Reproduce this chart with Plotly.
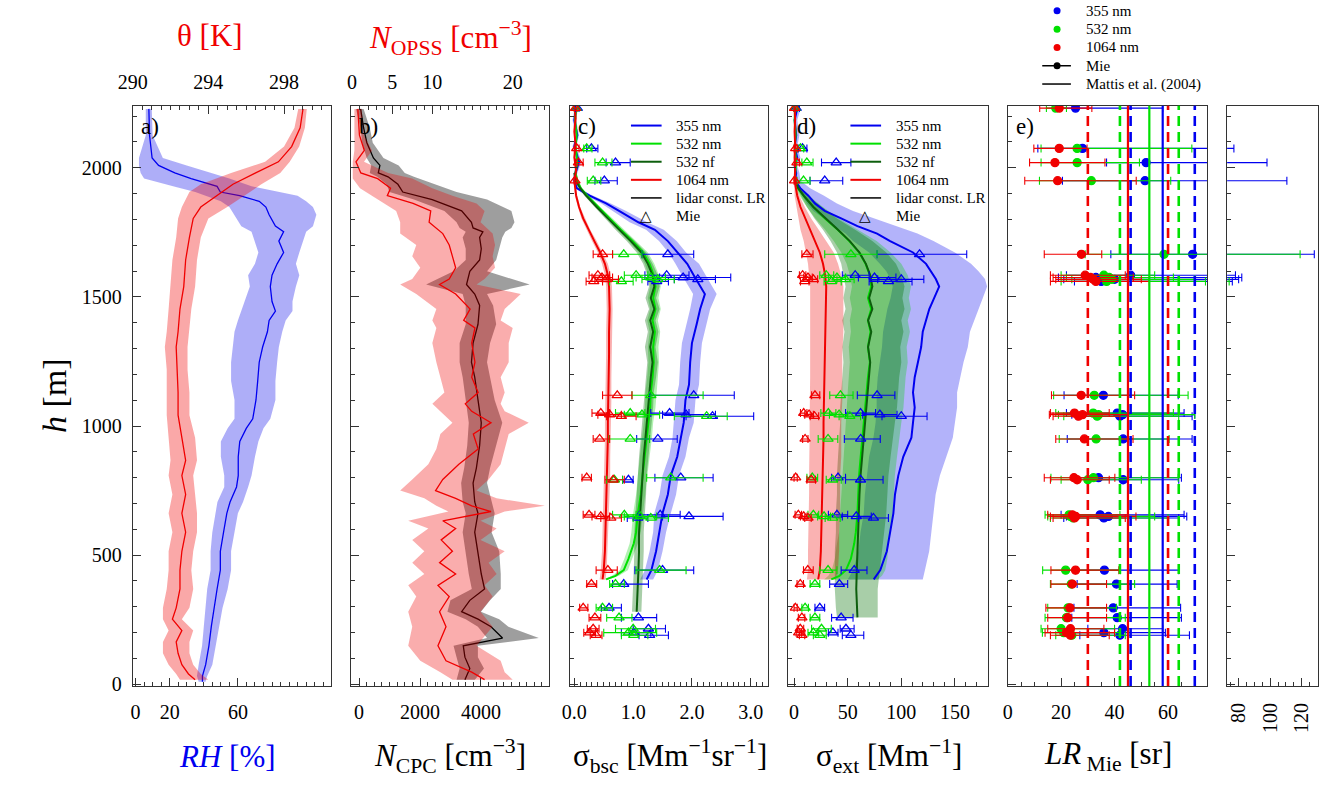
import plotly.graph_objects as go

# ======================= DATA =======================
# ---- panel a: RH (bottom axis) and potential temperature (top axis)
h_rh = [10, 32, 76, 149, 223, 296, 369, 442, 515, 589, 662, 706, 764, 808, 881, 940, 991, 1028, 1101, 1174,
        1247, 1306, 1365, 1409, 1445, 1482, 1540, 1584, 1628, 1672, 1716, 1752, 1774, 1818, 1848, 1870, 1892,
        1906, 1928, 1958, 1980, 2009, 2038, 2126, 2228]
rh = [39.2, 39.2, 41.1, 43.0, 44.4, 45.9, 47.8, 49.7, 49.7, 51.6, 53.5, 55.4, 59.2, 60.2, 60.2, 61.1, 64.9, 68.7,
      70.6, 71.6, 72.5, 74.5, 77.3, 78.3, 82.0, 80.0, 79.0, 80.0, 83.0, 86.8, 84.0, 86.8, 82.0, 78.3, 76.4, 72.5,
      61.0, 49.7, 47.8, 32.6, 23.0, 13.5, 9.7, 8.2, 7.8]
rh_lo = [37, 36, 37, 39, 40, 41, 42, 44, 44, 45, 47, 48, 52, 52, 50, 50, 54, 58, 58, 56, 56, 57, 58, 60, 62, 64,
         67, 66, 70, 72, 70, 68, 62, 58, 55, 50, 40, 35, 22, 5, 3, 2, 2, 6, 6]
rh_hi = [41, 42, 45, 47, 49, 51, 54, 56, 56, 58, 60, 63, 66, 68, 70, 72, 75, 79, 82, 82, 83, 84, 86, 88, 92, 92,
         94, 96, 94, 96, 98, 100, 104, 106, 104, 100, 95, 85, 68, 55, 45, 30, 16, 10, 9.5]

h_theta = [18, 40, 76, 120, 164, 208, 252, 296, 369, 442, 515, 589, 662, 735, 808, 867, 955, 1042, 1130, 1218,
           1306, 1365, 1453, 1540, 1643, 1730, 1804, 1848, 1906, 1936, 1980, 2023, 2082, 2155, 2228]
theta = [293.3, 292.95, 292.6, 292.4, 292.3, 292.6, 292.1, 292.3, 292.5, 292.5, 292.6, 292.8, 292.6, 292.8,
         292.6, 292.8, 292.6, 292.4, 292.4, 292.35, 292.3, 292.4, 292.5, 292.7, 292.8, 293.0, 293.2, 293.6,
         294.7, 295.3, 296.5, 297.7, 298.4, 298.85, 299.0]
theta_lo = [292.5, 292.3, 291.9, 291.6, 291.6, 291.9, 291.6, 291.6, 291.8, 291.9, 291.9, 292.1, 291.9, 292.1,
            291.9, 292.0, 291.9, 291.8, 291.8, 291.8, 291.7, 291.8, 291.9, 292.0, 292.1, 292.3, 292.4, 292.6,
            293.0, 293.6, 295.2, 297.0, 298.0, 298.55, 298.75]
theta_hi = [294.0, 293.6, 293.2, 293.0, 293.0, 293.2, 292.6, 293.0, 293.2, 293.1, 293.2, 293.4, 293.4, 293.3,
            293.2, 293.4, 293.3, 293.0, 293.0, 292.9, 292.9, 293.0, 293.1, 293.3, 293.4, 293.6, 294.0, 295.0,
            296.2, 296.8, 297.8, 298.3, 298.8, 299.1, 299.2]

# ---- panel b: N_CPC (bottom axis) and N_OPSS (top axis)
h_cpc = [18, 61, 105, 149, 179, 223, 252, 281, 325, 369, 427, 515, 589, 662, 706, 779, 837, 925, 1013, 1101,
         1189, 1247, 1321, 1394, 1467, 1511, 1548, 1599, 1643, 1686, 1730, 1752, 1767, 1789, 1833, 1877, 1906,
         1936, 1965, 1980, 2009, 2038, 2097, 2155, 2228]
cpc = [3474, 3635, 3474, 3420, 4708, 4332, 3903, 3366, 3635, 4118, 4011, 3903, 3796, 3903, 3796, 3742, 3850,
       3957, 4011, 3903, 3796, 3688, 3742, 3903, 3957, 3796, 3527, 3635, 3957, 4011, 3957, 4064, 3742, 3688,
       3366, 2400, 1435, 1274, 952, 630, 684, 470, 255, 148, 50]
cpc_lo = [3200, 3300, 3200, 3100, 4200, 3900, 3500, 2900, 3000, 3700, 3600, 3500, 3400, 3500, 3400, 3350, 3450,
          3550, 3600, 3500, 3400, 3300, 3300, 3500, 3500, 3400, 2200, 3100, 3500, 3500, 3400, 3500, 3300, 3200,
          2800, 1800, 1000, 900, 600, 350, 400, 250, 100, 50, -100]
cpc_hi = [3800, 4100, 3900, 3900, 5900, 4900, 4600, 4000, 4300, 4650, 4650, 4600, 4350, 4450, 4350, 4200, 4300,
          4500, 4700, 4450, 4300, 4200, 4300, 4500, 4400, 4200, 5600, 4200, 4500, 4600, 4700, 4800, 5000, 5100,
          5000, 4200, 3200, 2500, 1800, 1500, 1300, 800, 450, 350, 150]

h_opss = [18, 47, 91, 149, 223, 281, 340, 383, 427, 471, 515, 559, 603, 633, 669, 691, 720, 750, 793, 852,
          911, 969, 1013, 1057, 1086, 1130, 1189, 1247, 1321, 1380, 1409, 1453, 1511, 1548, 1569, 1613, 1657,
          1701, 1745, 1789, 1833, 1862, 1892, 1921, 1958, 1980, 2023, 2067, 2126, 2228]
opss = [16.5, 14.9, 11.7, 10.7, 11.7, 10.9, 12.1, 10.7, 12.9, 10.9, 12.5, 11.1, 12.9, 11.3, 17.3, 14.9, 12.9,
        10.4, 11.3, 13.3, 15.7, 15.1, 17.3, 14.9, 14.1, 15.7, 14.9, 15.3, 14.9, 15.3, 13.9, 14.7, 12.9, 10.9,
        12.1, 12.9, 12.5, 12.1, 11.3, 9.6, 9.8, 7.6, 4.4, 4.8, 3.2, 1.1, 0.5, 1.54, 0.93, 0.73]
opss_lo = [12.5, 11.0, 8.5, 7.0, 7.5, 7.0, 8.0, 7.0, 9.0, 7.5, 9.0, 7.5, 9.5, 7.0, 12.0, 10.5, 9.0, 6.0, 7.5,
           9.5, 10.5, 11.0, 12.5, 11.0, 10.0, 11.5, 11.0, 10.5, 10.0, 10.5, 10.0, 10.5, 8.0, 6.0, 7.5, 8.5, 7.5,
           8.0, 6.0, 6.0, 5.5, 4.0, 2.5, 1.0, 0.1, 0.1, 0.1, 0.3, 0.3, 0.3]
opss_hi = [20, 19, 18.5, 15.5, 17.5, 16, 17.5, 16.5, 18, 17, 19, 16, 18, 16, 19, 24, 18, 15.5, 17, 18.5, 19,
           19.5, 22, 19, 18.5, 19, 18.5, 19.5, 19.5, 20, 18.5, 19, 21, 15.5, 16.5, 17.8, 17.5, 17.8, 17.5, 16,
           16.5, 15.5, 12.5, 10, 7.5, 4.5, 1.5, 2.5, 1.5, 1.2]

# ---- panel c: backscatter coefficient profiles
h_c355 = [406, 442, 515, 589, 662, 735, 808, 881, 955, 1013, 1101, 1160, 1247, 1321, 1394, 1453, 1511, 1540,
          1584, 1628, 1672, 1716, 1760, 1789, 1833, 1862, 1892, 1921, 1950, 1980, 2023, 2082, 2126, 2185, 2228]
bsc355 = [1.23, 1.31, 1.39, 1.45, 1.50, 1.59, 1.64, 1.75, 1.81, 1.86, 1.89, 1.95, 1.97, 2.00, 2.08, 2.14, 2.22,
          2.14, 2.03, 1.92, 1.75, 1.59, 1.37, 1.09, 0.76, 0.54, 0.26, 0.04, 0.0, 0.02, 0.08, 0.0, 0.05, 0.0, 0.03]
bsc355_lo = [1.12, 1.20, 1.28, 1.34, 1.36, 1.45, 1.50, 1.61, 1.67, 1.69, 1.72, 1.78, 1.80, 1.83, 1.91, 1.97,
             2.02, 1.94, 1.83, 1.72, 1.60, 1.44, 1.22, 0.94, 0.64, 0.46, 0.20, 0.01, -0.03, -0.01, 0.04, -0.03,
             0.02, -0.03, 0.0]
bsc355_hi = [1.34, 1.42, 1.50, 1.56, 1.64, 1.73, 1.78, 1.89, 1.95, 2.03, 2.06, 2.12, 2.14, 2.17, 2.25, 2.31,
             2.42, 2.34, 2.23, 2.12, 1.90, 1.74, 1.52, 1.24, 0.88, 0.62, 0.32, 0.07, 0.03, 0.05, 0.12, 0.03,
             0.08, 0.03, 0.06]

h_c532 = [406, 420, 442, 486, 545, 589, 662, 735, 808, 881, 955, 1013, 1072, 1130, 1189, 1247, 1306, 1365,
          1409, 1453, 1496, 1540, 1584, 1628, 1672, 1716, 1760, 1804, 1848, 1892, 1921, 1950, 1980, 2023, 2082,
          2126, 2185, 2228]
bsc532 = [0.54, 0.70, 0.84, 0.92, 1.01, 1.05, 1.08, 1.13, 1.16, 1.20, 1.24, 1.26, 1.29, 1.30, 1.33, 1.35,
          1.34, 1.37, 1.33, 1.38, 1.34, 1.38, 1.35, 1.28, 1.17, 0.99, 0.79, 0.60, 0.40, 0.22, 0.11, 0.05, 0.02,
          0.05, 0.02, 0.04, 0.01, 0.03]
bsc532_lo = [0.50, 0.64, 0.77, 0.85, 0.94, 0.97, 1.00, 1.05, 1.08, 1.12, 1.16, 1.18, 1.20, 1.21, 1.24, 1.26,
             1.25, 1.28, 1.24, 1.29, 1.25, 1.29, 1.26, 1.20, 1.09, 0.92, 0.73, 0.55, 0.36, 0.19, 0.09, 0.03,
             0.0, 0.03, 0.0, 0.02, 0.0, 0.01]
bsc532_hi = [0.58, 0.76, 0.91, 0.99, 1.08, 1.13, 1.16, 1.21, 1.24, 1.28, 1.32, 1.34, 1.38, 1.39, 1.42, 1.44,
             1.43, 1.46, 1.42, 1.47, 1.43, 1.47, 1.44, 1.36, 1.25, 1.06, 0.85, 0.65, 0.44, 0.25, 0.13, 0.07,
             0.04, 0.07, 0.04, 0.06, 0.03, 0.05]

h_c532nf = [281, 369, 442, 515, 589, 662, 735, 808, 881, 955, 1013, 1072, 1130, 1189, 1247, 1306, 1365, 1409,
            1453, 1496, 1540, 1584, 1628, 1672, 1716, 1760, 1804, 1848, 1892, 1921, 1950, 1980]
bsc532nf = [1.06, 1.08, 1.09, 1.10, 1.10, 1.12, 1.14, 1.15, 1.18, 1.21, 1.23, 1.26, 1.27, 1.30, 1.33, 1.29,
            1.34, 1.29, 1.36, 1.30, 1.36, 1.33, 1.25, 1.14, 0.96, 0.76, 0.57, 0.38, 0.20, 0.10, 0.02, 0.0]
bsc532nf_lo = [0.98, 1.00, 1.01, 1.02, 1.02, 1.04, 1.06, 1.07, 1.10, 1.13, 1.15, 1.18, 1.19, 1.21, 1.24, 1.20,
               1.25, 1.20, 1.27, 1.21, 1.27, 1.24, 1.17, 1.06, 0.89, 0.70, 0.52, 0.34, 0.17, 0.08, 0.01, 0.0]
bsc532nf_hi = [1.14, 1.16, 1.17, 1.18, 1.18, 1.20, 1.22, 1.23, 1.26, 1.29, 1.31, 1.34, 1.35, 1.39, 1.42, 1.38,
               1.43, 1.38, 1.45, 1.39, 1.45, 1.42, 1.33, 1.22, 1.03, 0.82, 0.62, 0.42, 0.23, 0.12, 0.03, 0.01]

h_c1064 = [406, 442, 515, 589, 662, 735, 808, 881, 955, 1013, 1101, 1189, 1277, 1365, 1453, 1540, 1584, 1628,
           1672, 1716, 1760, 1804, 1848, 1892, 1950, 1990, 2040, 2090, 2140, 2190, 2230]
bsc1064 = [0.48, 0.50, 0.52, 0.53, 0.54, 0.55, 0.56, 0.56, 0.57, 0.57, 0.58, 0.58, 0.59, 0.59, 0.60, 0.59,
           0.57, 0.52, 0.44, 0.34, 0.24, 0.15, 0.08, 0.03, 0.0, 0.03, 0.0, 0.02, 0.0, 0.02, 0.01]
bsc1064_lo = [0.43, 0.45, 0.47, 0.48, 0.49, 0.50, 0.51, 0.51, 0.52, 0.52, 0.53, 0.53, 0.54, 0.54, 0.55, 0.54,
              0.52, 0.47, 0.40, 0.30, 0.21, 0.12, 0.06, 0.01, -0.01, 0.01, -0.01, 0.0, -0.01, 0.0, 0.0]
bsc1064_hi = [0.53, 0.55, 0.57, 0.58, 0.59, 0.60, 0.61, 0.61, 0.62, 0.62, 0.63, 0.63, 0.64, 0.64, 0.65, 0.64,
              0.62, 0.57, 0.48, 0.38, 0.27, 0.18, 0.10, 0.05, 0.01, 0.05, 0.01, 0.04, 0.01, 0.04, 0.02]

# ---- panel d: extinction coefficient profiles
h_d355 = [406, 442, 515, 589, 662, 735, 808, 881, 955, 1013, 1072, 1130, 1189, 1247, 1306, 1365, 1409, 1453,
          1496, 1540, 1569, 1599, 1628, 1672, 1716, 1745, 1774, 1804, 1833, 1862, 1892, 1921, 1950, 1980, 2009,
          2038, 2082, 2126, 2185, 2228]
ext355 = [74.3, 80.4, 86.5, 89.6, 92.6, 94.1, 97.2, 101.8, 109.4, 110.9, 112.5, 110.9, 112.5, 115.5, 118.5,
          120.0, 123.1, 126.1, 130.7, 135.3, 132.2, 127.7, 123.1, 110.9, 89.6, 77.4, 59.1, 43.9, 28.6, 19.5,
          13.4, 5.8, 1.0, 2.0, 0.5, 3.0, 0.5, 2.0, 0.5, 3.0]
ext355_lo = [50, 55, 60, 62, 65, 66, 68, 70, 74, 76, 77, 77, 78, 80, 82, 83, 85, 87, 90, 92, 90, 86, 80, 70,
             55, 48, 38, 28, 18, 12, 8, 3, 0, 0, 0, 1, 0, 0, 0, 1]
ext355_hi = [120, 122, 126, 128, 130, 132, 136, 142, 148, 150, 152, 152, 155, 158, 162, 164, 168, 172, 176,
             180, 178, 172, 165, 150, 130, 115, 95, 75, 55, 40, 28, 15, 6, 5, 3, 6, 3, 5, 3, 6]

h_d532 = [406, 420, 442, 486, 545, 589, 662, 735, 808, 881, 955, 1013, 1072, 1130, 1189, 1247, 1306, 1365,
          1409, 1453, 1496, 1540, 1584, 1628, 1672, 1716, 1760, 1804, 1848, 1892, 1921, 1950, 1980, 2023, 2082,
          2126, 2185, 2228]
ext532 = [34.7, 42.3, 48.4, 53.0, 56.1, 57.6, 59.1, 59.7, 60.6, 62.1, 63.7, 65.2, 66.7, 67.6, 68.9, 70.7,
          68.9, 71.3, 68.9, 71.9, 68.9, 71.9, 70.7, 66.7, 60.6, 51.5, 40.8, 28.6, 18.0, 8.8, 3.6, 0.5, 1.0, 2.0,
          0.5, 1.5, 0.5, 1.0]
ext532_lo = [28, 32, 35, 38, 40, 42, 43, 44, 45, 46, 47, 48, 49, 50, 51, 52, 51, 53, 52, 54, 52, 54, 52, 49,
             44, 37, 29, 20, 12, 5, 2, 0, 0, 0.5, 0, 0.5, 0, 0]
ext532_hi = [78, 82, 85, 87, 88, 90, 92, 93, 94, 96, 98, 100, 102, 103, 104, 106, 105, 108, 106, 109, 107, 109,
             106, 100, 90, 77, 60, 42, 27, 14, 7, 2, 2, 3.5, 1.5, 3, 1.5, 2]

h_d532nf = [259, 296, 369, 442, 515, 589, 662, 735, 808, 881, 955, 1013, 1072, 1130, 1189, 1247, 1306, 1365,
            1409, 1453, 1496, 1540, 1584, 1628, 1672, 1716, 1760, 1804, 1848, 1892, 1921, 1950]
ext532nf = [59.1, 58.5, 58.0, 58.5, 59.0, 59.5, 60.0, 61.0, 62.0, 63.5, 65.0, 66.0, 67.0, 68.0, 69.5, 71.0,
            69.0, 72.0, 69.0, 73.0, 70.0, 73.0, 71.0, 67.0, 61.0, 52.0, 41.0, 29.0, 18.0, 9.0, 4.0, 1.0]
ext532nf_lo = [40, 39, 38, 38, 38, 39, 39, 40, 40, 41, 42, 43, 43, 44, 45, 46, 45, 47, 45, 48, 46, 48, 46, 44,
               40, 34, 27, 19, 12, 6, 2.5, 0.5]
ext532nf_hi = [78, 78, 78, 80, 82, 84, 86, 87, 88, 90, 92, 94, 96, 97, 98, 100, 99, 102, 100, 103, 101, 103,
               100, 95, 86, 73, 57, 40, 26, 13, 6, 1.5]

h_d1064 = [406, 442, 515, 589, 662, 735, 808, 881, 955, 1013, 1101, 1189, 1277, 1365, 1453, 1540, 1584, 1628,
           1672, 1716, 1760, 1804, 1848, 1892, 1950, 1990, 2040, 2090, 2140, 2190, 2230]
ext1064 = [22.5, 24.0, 25.0, 25.5, 26.0, 26.5, 27.0, 27.0, 27.5, 27.5, 28.0, 28.5, 29.0, 29.5, 30.0, 30.0,
           29.0, 27.0, 24.0, 19.5, 14.5, 10.0, 6.0, 3.0, 0.5, 1.0, 0.5, 1.0, 0.5, 1.0, 0.5]
ext1064_lo = [12, 13, 13, 13.5, 14, 14, 14, 14.5, 14.5, 14.5, 15, 15, 15, 15, 15, 15, 14, 13, 11, 9, 6, 4, 2,
              0.5, 0, 0, 0, 0, 0, 0, 0]
ext1064_hi = [39, 41, 42, 42, 43, 43, 43, 44, 44, 44, 45, 45, 45, 46, 46, 46, 44, 41, 37, 30, 23, 16, 10, 5, 1,
              2, 1, 2, 1, 2, 1]

# ---- Mie calculations at flight-level heights (panels c, d, e)
h_mie = [2231, 2075, 2020, 1950, 1665, 1584, 1575, 1568, 1560, 1119, 1050, 1044, 1038, 950, 800, 792, 656,
         650, 644, 442, 388, 296, 258, 215, 200, 190]

mie_bsc355 = [0.05, 0.29, 0.70, 0.51, 1.59, 1.57, 1.85, 2.10, 1.40, 2.03, 1.62, 1.90, 2.35, 1.42, 1.81, 0.92,
              1.46, 1.95, 1.08, 1.50, 0.84, 0.59, 1.09, 1.26, 1.01, 1.28]
mie_bsc355_lo = [0.02, 0.21, 0.54, 0.35, 1.15, 1.20, 1.45, 1.70, 1.25, 1.28, 1.30, 1.50, 1.90, 1.06, 1.37,
                 0.82, 1.10, 1.50, 0.90, 1.03, 0.65, 0.46, 0.80, 1.00, 0.80, 1.10]
mie_bsc355_hi = [0.08, 0.40, 0.95, 0.73, 2.03, 1.95, 2.66, 2.40, 1.60, 2.72, 1.95, 2.40, 3.05, 1.75, 2.36,
                 1.00, 1.80, 2.53, 1.25, 2.03, 1.26, 0.80, 1.40, 1.55, 1.30, 1.60]
mie_bsc532 = [0.03, 0.21, 0.48, 0.32, 0.84, 1.05, 1.30, 1.42, 0.80, 1.30, 0.95, 1.15, 2.25, 0.95, 1.64, 0.68,
              0.85, 1.12, 1.30, 1.45, 0.70, 0.48, 0.76, 1.00, 0.92, 1.01]
mie_bsc532_lo = [0.0, 0.16, 0.35, 0.22, 0.65, 0.85, 1.05, 1.15, 0.60, 0.98, 0.70, 0.85, 1.70, 0.59, 1.23, 0.55,
                 0.65, 0.85, 1.00, 1.05, 0.60, 0.37, 0.55, 0.70, 0.50, 0.80]
mie_bsc532_hi = [0.06, 0.30, 0.64, 0.45, 1.15, 1.25, 1.55, 1.70, 1.00, 2.19, 1.20, 1.45, 2.60, 1.28, 2.19, 0.82,
                 1.05, 1.40, 1.60, 1.90, 0.85, 0.65, 0.98, 1.38, 1.40, 1.25]
mie_bsc1064 = [0.02, 0.04, 0.07, 0.01, 0.48, 0.40, 0.47, 0.55, 0.33, 0.73, 0.45, 0.60, 0.80, 0.43, 0.21, 0.66,
               0.25, 0.45, 0.62, 0.57, 0.29, 0.15, 0.35, 0.32, 0.26, 0.37]
mie_bsc1064_lo = [0.0, 0.0, 0.02, 0.0, 0.32, 0.25, 0.30, 0.35, 0.20, 0.48, 0.30, 0.40, 0.55, 0.32, 0.13, 0.52,
                  0.15, 0.30, 0.45, 0.37, 0.21, 0.09, 0.25, 0.22, 0.16, 0.27]
mie_bsc1064_hi = [0.04, 0.08, 0.15, 0.04, 0.65, 0.60, 0.65, 0.75, 0.48, 0.98, 0.60, 0.80, 1.05, 0.60, 0.29,
                  0.85, 0.35, 0.60, 0.80, 0.73, 0.38, 0.23, 0.45, 0.42, 0.36, 0.47]

mie_ext355 = [2, 7.9, 39.3, 28.6, 117, 57, 75, 100, 88, 77.4, 62, 80, 100, 62.1, 41, 62, 40, 58, 74, 56.1,
              42.3, 24, 43.9, 48.4, 36.2, 53]
mie_ext355_lo = [0, 4, 25.6, 14.9, 77.4, 45, 60, 78, 70, 59, 48, 64, 82, 46.9, 35, 48, 32, 45, 60, 43.9, 33.2,
                 19.5, 35, 43, 32, 45]
mie_ext355_hi = [5, 12, 53, 45.4, 161, 70, 95, 121, 110, 94, 76, 96, 124, 80.4, 48, 83, 50, 72, 88, 68, 50,
                 28.5, 55, 56, 41, 65]
mie_ext532 = [1, 6, 11.9, 8.8, 53, 30, 40, 48, 35, 43.3, 32, 42, 52, 31.7, 17, 36, 18, 28, 36, 31.7, 19.5,
              10.3, 19.5, 25.6, 18, 24.1]
mie_ext532_lo = [0, 3, 7.3, 2.8, 28.6, 24, 32, 40, 28, 33.3, 25, 33, 42, 22.5, 12, 30, 13, 22, 29, 24, 15, 7.3,
                 15, 16.4, 13, 18]
mie_ext532_hi = [3, 9, 17.7, 14.9, 77.4, 37, 48, 56, 44, 55, 39, 50, 62, 40.8, 22, 44, 23, 34, 43, 40, 24,
                 13.4, 24, 34.7, 23, 30]
mie_ext1064 = [0.5, 1.5, 2.7, 0.5, 11.9, 8, 13, 18, 10, 19.5, 9, 14, 19, 10.3, 1.5, 16, 4, 9, 13, 12.8, 5.8,
               1.2, 7.3, 5.8, 4.3, 7.3]
mie_ext1064_lo = [0, 0, 0.5, 0, 7.3, 5, 9, 14, 6, 16.4, 6, 10, 15, 8, 0, 12, 1, 6, 10, 8.8, 2.8, 0, 4, 3, 2, 5]
mie_ext1064_hi = [1.5, 3, 5, 2, 17.7, 11, 17, 22, 14, 24, 12, 18, 23, 13, 3, 20, 7, 12, 16, 17.9, 8.8, 3, 10,
                  9, 7, 10]

lr355 = [25.4, 28.0, 51.8, 51.4, 69.2, 46, 33, 40, 35, 35.8, 41, 43, 42, 43.2, 34, 43.2, 34.6, 37.7, 36, 36.2,
         40.7, 39.5, 41, 43, 36, 42]
lr355_lo = [17.5, 11.3, 37, 20.5, 38.6, 22, 19, 21, 25, 21.1, 22, 24, 26, 22.3, 24.8, 30, 20, 22, 21, 25.4, 26,
            24.8, 24, 30, 24, 27]
lr355_hi = [58, 77, 98, 110.6, 128, 78, 82, 80, 76, 63.8, 66, 70, 69, 69, 65, 64, 66, 67, 64, 64, 63.4, 64.7,
            65, 58, 59, 68]
lr532 = [18, 26, 26, 31.3, 58.5, 36, 38, 39, 37, 32.4, 32, 34, 33.5, 33.1, 32.1, 30, 23, 23.5, 24.5, 21.7,
         23.8, 22.6, 22, 20, 21, 24]
lr532_lo = [14.5, 12.5, 12.5, 11.9, 29, 20, 22, 24, 20, 17.2, 18, 19, 21, 19.3, 16.2, 20, 14, 15, 16, 13.1, 16,
            15, 14, 12.5, 13, 18]
lr532_hi = [22, 68.9, 49.3, 61, 119, 55, 62, 70, 74, 67.5, 62, 70, 64, 60.4, 63.8, 50, 42, 55, 60, 42.2, 47.5,
            40.7, 44, 40, 42, 44]
lr1064 = [19.3, 19.3, 17.7, 18.7, 27.6, 29, 31, 32, 33, 27.5, 25, 28, 26.5, 28.7, 24.8, 26, 24.2, 25.5, 25,
          25.4, 24.2, 23.3, 22.5, 23.5, 22, 23.5]
lr1064_lo = [12, 9.8, 8.2, 6.4, 13.7, 16, 17, 18, 16, 16.4, 16, 15.6, 17, 18, 13.7, 16, 15, 16, 17, 16.2, 16.2,
             14.3, 15, 15, 14, 16]
lr1064_hi = [31.5, 29.7, 36.4, 48.1, 35.2, 44, 47, 50, 53, 47.5, 38, 45, 42, 46.9, 40.1, 38, 45, 48, 44, 41.6,
             37, 37, 37, 36, 40, 38]

# ---- Mattis et al. (2004) lidar ratios (mean and standard deviation)
wavelengths = ["355 nm", "532 nm", "1064 nm"]
mattis_mean = [58, 53, 45]
mattis_std = [12, 11, 15]

# ---- legend labels
profile_names = ["355 nm", "532 nm", "532 nf", "1064 nm", "lidar const. LR", "Mie"]
top_names = ["355 nm", "532 nm", "1064 nm", "Mie", "Mattis et al. (2004)"]

# ======================= STYLE =======================
W, H = 1325, 790
FONT = "Liberation Serif"
BLUE, GREEN, DGREEN, RED = "#0000f0", "#00e000", "#0d5e0d", "#f00000"
WCOL = {"355 nm": BLUE, "532 nm": GREEN, "1064 nm": RED}
AX = "#333333"


def px(x):
    return x / W


def py(y):
    return 1 - y / H


fig = go.Figure()


def band(lo, hi, h, color, xa, ya):
    fig.add_trace(go.Scatter(x=list(lo) + list(hi)[::-1], y=list(h) + list(h)[::-1], fill="toself",
                             fillcolor=color, line=dict(width=0), mode="lines", hoverinfo="skip",
                             showlegend=False, xaxis=xa, yaxis=ya))


def line(x, h, color, width, xa, ya, name=None):
    fig.add_trace(go.Scatter(x=x, y=h, mode="lines", line=dict(color=color, width=width), name=name,
                             showlegend=False, xaxis=xa, yaxis=ya))


def errpts(vals, lo, hi, color, symbol, size, xa, ya, name=None):
    plus = [b - v for v, b in zip(vals, hi)]
    minus = [v - a for v, a in zip(vals, lo)]
    fig.add_trace(go.Scatter(x=vals, y=h_mie, mode="markers",
                             marker=dict(symbol=symbol, size=size, color=color,
                                         line=dict(color=color, width=1.3)),
                             error_x=dict(type="data", symmetric=False, array=plus, arrayminus=minus,
                                          color=color, thickness=1.1, width=4),
                             name=name, showlegend=False, xaxis=xa, yaxis=ya))


# ---- panel a
band(rh_lo, rh_hi, h_rh, "rgba(30,30,235,0.36)", "x", "y")
band(theta_lo, theta_hi, h_theta, "rgba(240,0,0,0.34)", "x2", "y")
line(rh, h_rh, BLUE, 1.3, "x", "y", "RH")
line(theta, h_theta, RED, 1.3, "x2", "y", "theta")

# ---- panel b
band(opss_lo, opss_hi, h_opss, "rgba(240,0,0,0.32)", "x4", "y2")
band(cpc_lo, cpc_hi, h_cpc, "rgba(0,0,0,0.38)", "x3", "y2")
line(cpc, h_cpc, "black", 1.3, "x3", "y2", "N_CPC")
line(opss, h_opss, RED, 1.3, "x4", "y2", "N_OPSS")

# ---- panels c and d
fills = ["rgba(20,20,240,0.32)", "rgba(0,210,0,0.30)", "rgba(0,110,0,0.34)", "rgba(240,0,0,0.30)"]
line_cols = [BLUE, GREEN, DGREEN, RED]
for xa, ya, prof in [
    ("x5", "y3",
     [(h_c355, bsc355, bsc355_lo, bsc355_hi), (h_c532, bsc532, bsc532_lo, bsc532_hi),
      (h_c532nf, bsc532nf, bsc532nf_lo, bsc532nf_hi), (h_c1064, bsc1064, bsc1064_lo, bsc1064_hi)]),
    ("x6", "y4",
     [(h_d355, ext355, ext355_lo, ext355_hi), (h_d532, ext532, ext532_lo, ext532_hi),
      (h_d532nf, ext532nf, ext532nf_lo, ext532nf_hi), (h_d1064, ext1064, ext1064_lo, ext1064_hi)]),
]:
    for (hh, v, lo, hi), fc in zip(prof, fills):
        band(lo, hi, hh, fc, xa, ya)
    for (hh, v, lo, hi), nm, c in zip(prof, profile_names, line_cols):
        line(v, hh, c, 2.0, xa, ya, name=nm)

mie_c = [(mie_bsc355, mie_bsc355_lo, mie_bsc355_hi), (mie_bsc532, mie_bsc532_lo, mie_bsc532_hi),
         (mie_bsc1064, mie_bsc1064_lo, mie_bsc1064_hi)]
mie_d = [(mie_ext355, mie_ext355_lo, mie_ext355_hi), (mie_ext532, mie_ext532_lo, mie_ext532_hi),
         (mie_ext1064, mie_ext1064_lo, mie_ext1064_hi)]
for (v, lo, hi), wl in zip(mie_c, wavelengths):
    errpts(v, lo, hi, WCOL[wl], "triangle-up-open", 9, "x5", "y3", "Mie " + wl)
for (v, lo, hi), wl in zip(mie_d, wavelengths):
    errpts(v, lo, hi, WCOL[wl], "triangle-up-open", 9, "x6", "y4", "Mie " + wl)

# ---- panels e and f (broken LR axis)
mie_lr = [(lr355, lr355_lo, lr355_hi), (lr532, lr532_lo, lr532_hi), (lr1064, lr1064_lo, lr1064_hi)]
for (v, lo, hi), wl in zip(mie_lr, wavelengths):
    errpts(v, lo, hi, WCOL[wl], "circle", 8, "x7", "y5", wl)
for (v, lo, hi), wl in zip(mie_lr, wavelengths):
    errpts(v, lo, hi, WCOL[wl], "circle", 8, "x8", "y6", wl)

shapes = []
for wl, m, s in zip(wavelengths, mattis_mean, mattis_std):
    c = WCOL[wl]
    shapes.append(dict(type="line", xref="x7", yref="y5 domain", x0=m, x1=m, y0=0, y1=1,
                       line=dict(color=c, width=2.2)))
    for v in (m - s, m + s):
        shapes.append(dict(type="line", xref="x7", yref="y5 domain", x0=v, x1=v, y0=0, y1=1,
                           line=dict(color=c, width=2.6, dash="10px,6px")))

# ======================= AXES =======================
TF = dict(family=FONT, size=20, color="black")
ydom = [py(694), py(107)]


def xaxis(dom, rng, tv, minor, side="bottom", anchor="y", overlaying=None, angle=None, mirror=True, fmt=None):
    d = dict(domain=[px(dom[0]), px(dom[1])], range=rng, tickmode="array", tickvals=tv,
             ticktext=[fmt.format(t) if fmt else str(t) for t in tv],
             ticks="inside", ticklen=8, tickwidth=1, tickcolor=AX,
             minor=dict(ticks="inside", ticklen=4, tickwidth=1, tickcolor=AX, tickmode="linear",
                        tick0=0, dtick=minor),
             showline=True, linecolor=AX, linewidth=1, mirror=mirror, showgrid=False, zeroline=False,
             tickfont=TF, side=side, anchor=anchor, ticklabelstandoff=8)
    if overlaying:
        d["overlaying"] = overlaying
    if angle is not None:
        d["tickangle"] = angle
    return d


def yaxis(anchor, labels):
    return dict(domain=ydom, range=[-7, 2240], tickmode="array", tickvals=[0, 500, 1000, 1500, 2000],
                ticks="inside", ticklen=8, tickwidth=1, tickcolor=AX,
                minor=dict(ticks="inside", ticklen=4, tickwidth=1, tickcolor=AX, tickmode="linear",
                           tick0=0, dtick=100),
                showline=True, linecolor=AX, linewidth=1, mirror=True, showgrid=False, zeroline=False,
                showticklabels=labels, tickfont=TF, anchor=anchor, ticklabelstandoff=6)


layout_axes = dict(
    xaxis=xaxis((119, 320), [-1.7, 114.8], [0, 20, 60], 5),
    xaxis2=xaxis((119, 320), [290.0, 300.5], [290, 294, 298], 0.5, side="top", overlaying="x", mirror=False),
    xaxis3=xaxis((340, 540), [-260, 6230], [0, 2000, 4000], 250, anchor="y2"),
    xaxis4=xaxis((340, 540), [-0.1, 24.5], [0, 5, 10, 20], 1, side="top", anchor="y2", overlaying="x3",
                 mirror=False),
    xaxis5=xaxis((561, 762), [-0.08, 3.3], [0, 1, 2, 3], 0.1, anchor="y3", fmt="{:.1f}"),
    xaxis6=xaxis((782, 984), [-5.5, 180.7], [0, 50, 100, 150], 10, anchor="y4"),
    xaxis7=xaxis((1004, 1206), [0, 74.7], [0, 20, 40, 60], 5, anchor="y5"),
    xaxis8=xaxis((1226, 1318), [72.7, 130.4], [80, 100, 120], 5, anchor="y6", angle=-90),
    yaxis=yaxis("x", True),
    yaxis2=yaxis("x3", False),
    yaxis3=yaxis("x5", False),
    yaxis4=yaxis("x6", False),
    yaxis5=yaxis("x7", False),
    yaxis6=yaxis("x8", False),
)

# ======================= TEXT =======================
BIG = 31
ann = [
    dict(text="θ [K]", x=px(197), y=py(36), font=dict(family=FONT, size=BIG, color=RED)),
    dict(text="<i>N</i><sub>OPSS</sub> [cm<sup>−3</sup>]", x=px(440), y=py(38),
         font=dict(family=FONT, size=BIG, color=RED)),
    dict(text="<i>RH</i> [%]", x=px(215), y=py(765), font=dict(family=FONT, size=BIG, color=BLUE)),
    dict(text="<i>N</i><sub>CPC</sub> [cm<sup>−3</sup>]", x=px(440), y=py(765),
         font=dict(family=FONT, size=BIG, color="black")),
    dict(text="σ<sub>bsc</sub> [Mm<sup>−1</sup>sr<sup>−1</sup>]", x=px(662), y=py(765),
         font=dict(family=FONT, size=BIG, color="black")),
    dict(text="σ<sub>ext</sub> [Mm<sup>−1</sup>]", x=px(884), y=py(765),
         font=dict(family=FONT, size=BIG, color="black")),
    dict(text="<i>LR</i><sub> Mie</sub> [sr]", x=px(1106), y=py(765),
         font=dict(family=FONT, size=BIG, color="black")),
    dict(text="<i>h</i> [m]", x=px(40), y=py(400), textangle=-90,
         font=dict(family=FONT, size=34, color="black")),
]
for lab, x0 in zip(["a)", "b)", "c)", "d)", "e)"], [125, 346, 567, 789, 1010]):
    ann.append(dict(text=lab, x=px(x0), y=py(128), xanchor="left",
                    font=dict(family=FONT, size=23, color="black")))

# ---- hand-placed legends (panels c, d and top right)
LEGF = dict(family=FONT, size=15, color="black")
leg_cols = [BLUE, GREEN, DGREEN, RED, "black", "black"]
for x_line in (623, 845):
    for i, (nm, c) in enumerate(zip(profile_names, leg_cols)):
        yy = 127 + 18.3 * i
        if nm == "Mie":
            ann.append(dict(text="△", x=px(x_line + 15), y=py(yy), font=dict(family=FONT, size=15, color="black")))
        else:
            shapes.append(dict(type="line", xref="paper", yref="paper", x0=px(x_line), x1=px(x_line + 31),
                               y0=py(yy), y1=py(yy), line=dict(color=c, width=2 if i < 4 else 1.5)))
        ann.append(dict(text=nm, x=px(x_line + 44), y=py(yy), xanchor="left", font=LEGF))

for i, nm in enumerate(top_names):
    yy = 11 + 18.5 * i
    c = WCOL.get(nm, "black")
    if nm in WCOL or nm == "Mie":
        shapes.append(dict(type="circle", xref="paper", yref="paper", xsizemode="pixel", ysizemode="pixel",
                           xanchor=px(1054), yanchor=py(yy), x0=-3.5, x1=3.5, y0=-3.5, y1=3.5,
                           fillcolor=c, line=dict(color=c, width=0)))
    if nm not in WCOL:
        shapes.append(dict(type="line", xref="paper", yref="paper", x0=px(1039), x1=px(1068),
                           y0=py(yy), y1=py(yy), line=dict(color="black", width=1.5)))
    ann.append(dict(text=nm, x=px(1081), y=py(yy), xanchor="left", font=LEGF))

for a in ann:
    a.update(xref="paper", yref="paper", showarrow=False)
    a.setdefault("xanchor", "center")
    a.setdefault("yanchor", "middle")

fig.update_layout(
    width=W, height=H, margin=dict(l=0, r=0, t=0, b=0),
    paper_bgcolor="white", plot_bgcolor="white",
    font=dict(family=FONT, color="black"),
    showlegend=False,
    annotations=ann, shapes=shapes,
    **layout_axes,
)

fig.write_html("out.html", config={"displayModeBar": False},
               post_script="document.body.style.margin='0px';")
